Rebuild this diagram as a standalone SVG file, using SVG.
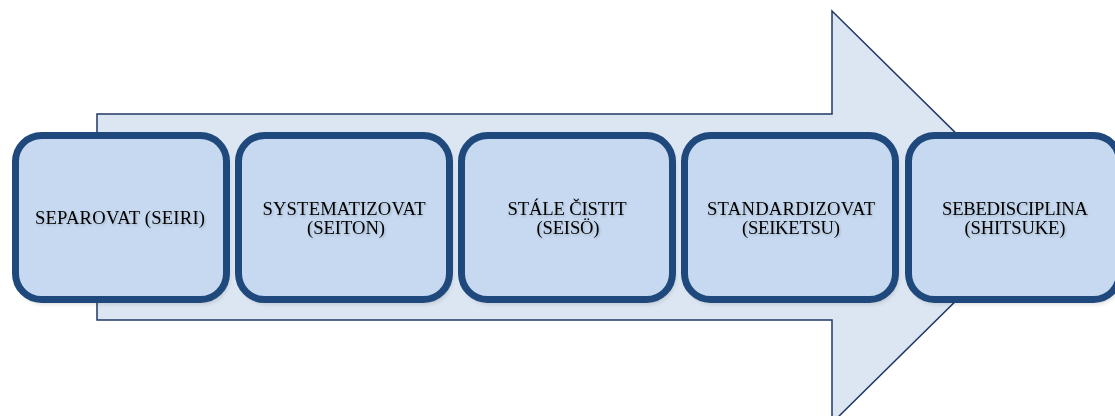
<svg xmlns="http://www.w3.org/2000/svg" width="1115" height="416" viewBox="0 0 1115 416">
<style>
.box{fill:#C6D9F0;stroke:#1F497D;stroke-width:7}
.sh{fill:#000;opacity:0.18}
.t{font-family:"Liberation Serif","Times New Roman",serif;font-size:18.6px;fill:#000;text-anchor:middle;filter:url(#tsh)}
</style>
<defs>
<filter id="blur" x="-10%" y="-10%" width="120%" height="120%"><feGaussianBlur stdDeviation="2.5"/></filter>
<filter id="tsh" x="-10%" y="-30%" width="120%" height="160%"><feDropShadow dx="1" dy="1.5" stdDeviation="1" flood-color="#000" flood-opacity="0.18"/></filter>
</defs>
<rect width="1115" height="416" fill="#fff"/>
<g id="arrow">
<polygon points="97,114 832,114 832,11 1041,217 832,423 832,320 97,320" fill="#DCE6F2" stroke="#1F3864" stroke-width="1.5"/>
</g>
<g id="connectors"></g>
<g id="n1">
<rect class="sh" x="17.5" y="139.5" width="211" height="164" rx="26" filter="url(#blur)"/>
<rect class="box" x="15.5" y="135.5" width="211" height="164" rx="26"/>
<text class="t" x="120" y="224" textLength="170">SEPAROVAT (SEIRI)</text>
</g>
<g id="n2">
<rect class="sh" x="240.5" y="139.5" width="211" height="164" rx="26" filter="url(#blur)"/>
<rect class="box" x="238.5" y="135.5" width="211" height="164" rx="26"/>
<text class="t" x="344" y="215" textLength="163">SYSTEMATIZOVAT</text>
<text class="t" x="346" y="234" textLength="78">(SEITON)</text>
</g>
<g id="n3">
<rect class="sh" x="463.5" y="139.5" width="211" height="164" rx="26" filter="url(#blur)"/>
<rect class="box" x="461.5" y="135.5" width="211" height="164" rx="26"/>
<text class="t" x="567" y="215" textLength="119">STÁLE ČISTIT</text>
<text class="t" x="568" y="234" textLength="63">(SEISÖ)</text>
</g>
<g id="n4">
<rect class="sh" x="686.5" y="139.5" width="211" height="164" rx="26" filter="url(#blur)"/>
<rect class="box" x="684.5" y="135.5" width="211" height="164" rx="26"/>
<text class="t" x="791" y="215" textLength="168">STANDARDIZOVAT</text>
<text class="t" x="791" y="234" textLength="98">(SEIKETSU)</text>
</g>
<g id="n5">
<rect class="sh" x="910.5" y="139.5" width="211" height="164" rx="26" filter="url(#blur)"/>
<rect class="box" x="908.5" y="135.5" width="211" height="164" rx="26"/>
<text class="t" x="1015" y="215" textLength="146">SEBEDISCIPLINA</text>
<text class="t" x="1015" y="234" textLength="101">(SHITSUKE)</text>
</g>
</svg>
